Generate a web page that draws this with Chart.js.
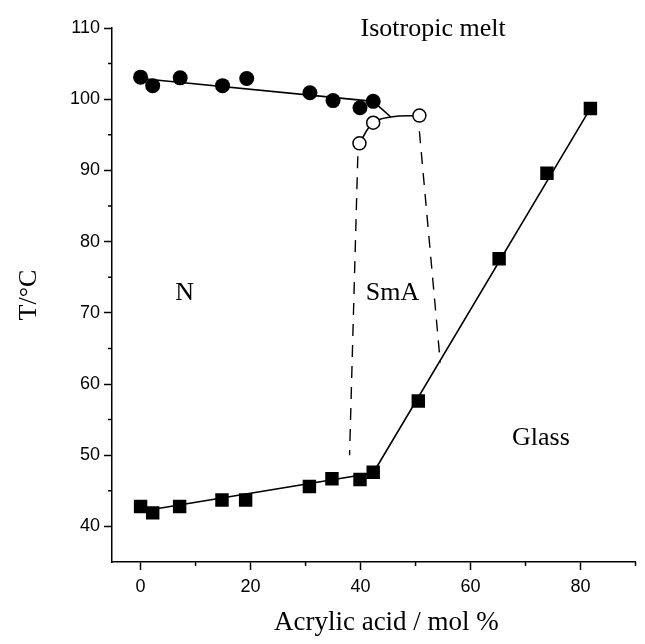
<!DOCTYPE html>
<html>
<head>
<meta charset="utf-8">
<script src="https://cdn.jsdelivr.net/npm/chart.js@4.4.1/dist/chart.umd.min.js"></script>
<style>
    html, body { margin: 0; padding: 0; background: #fff; }
    #wrap { width: 645px; height: 644px; }
</style>
</head>
<body>
<div id="wrap"><canvas id="phaseChart" width="645" height="644"></canvas></div>
<script>
// nematic -> isotropic (filled circles)
const niX = [0, 2.2, 7.2, 14.9, 19.3, 30.8, 35.0, 39.9, 42.3];
const niY = [103.1, 101.9, 103.0, 101.9, 102.9, 100.9, 99.8, 98.8, 99.7];
// smectic A -> isotropic (open circles)
const siX = [39.8, 42.3, 50.7];
const siY = [93.8, 96.7, 97.7];
// glass transition (squares)
const tgX = [0, 2.2, 7.1, 14.8, 19.1, 30.7, 34.8, 39.9, 42.3, 50.5, 65.2, 73.9, 81.8];
const tgY = [42.8, 41.9, 42.8, 43.7, 43.7, 45.6, 46.7, 46.6, 47.6, 57.6, 77.6, 89.6, 98.7];

// guide lines drawn by hand in the figure
const niLineX = [0, 42.3, 45.5];
const niLineY = [102.9, 99.7, 97.5];
const siLineX = [39.8, 42.3, 45.5, 50.7];
const siLineY = [93.8, 96.7, 97.5, 97.7];
const tgLineX = [1.5, 42.3, 81.8];
const tgLineY = [42.3, 47.5, 98.7];
const leftDashX = [39.5, 38.0];
const leftDashY = [92.0, 50.0];
const rightDashX = [50.7, 54.5];
const rightDashY = [95.5, 63.0];

const xTicks = [0, 20, 40, 60, 80];
const yTicks = [40, 50, 60, 70, 80, 90, 100, 110];
const xMinor = [10, 30, 50, 70, 90];
const yMinor = [45, 55, 65, 75, 85, 95, 105];

const regionLabels = ['Isotropic melt', 'N', 'SmA', 'Glass'];
const regionX = [53.2, 8.0, 45.8, 72.8];
const regionY = [109.8, 72.7, 72.7, 52.4];
const xTitle = 'Acrylic acid / mol %';
const xTitleAt = 44.7;

function pts(xs, ys) {
    return xs.map((x, i) => ({ x: x, y: ys[i] }));
}

const serif = "'Liberation Serif', 'Times New Roman', serif";
const sans = "'Liberation Sans', Arial, sans-serif";

// minor ticks, region names and the x title (which sits off-centre)
const extrasPlugin = {
    id: 'extras',
    afterDraw(chart) {
        const ctx = chart.ctx;
        const xs = chart.scales.x;
        const ys = chart.scales.y;
        ctx.save();
        ctx.strokeStyle = '#000';
        ctx.lineWidth = 1.5;
        ctx.beginPath();
        xMinor.forEach(v => {
            const px = xs.getPixelForValue(v);
            ctx.moveTo(px, ys.bottom);
            ctx.lineTo(px, ys.bottom + 4);
        });
        yMinor.forEach(v => {
            const py = ys.getPixelForValue(v);
            ctx.moveTo(xs.left, py);
            ctx.lineTo(xs.left - 4, py);
        });
        ctx.stroke();

        ctx.fillStyle = '#000';
        ctx.font = '26px ' + serif;
        ctx.textAlign = 'center';
        ctx.textBaseline = 'middle';
        regionLabels.forEach((t, i) => {
            ctx.fillText(t, xs.getPixelForValue(regionX[i]), ys.getPixelForValue(regionY[i]));
        });

        ctx.font = '27px ' + serif;
        ctx.fillText(xTitle, xs.getPixelForValue(xTitleAt), xs.bottom - 21);
        ctx.restore();
    }
};

const ctx = document.getElementById('phaseChart').getContext('2d');
new Chart(ctx, {
    type: 'scatter',
    data: {
        datasets: [
            {
                label: 'N-I',
                data: pts(niX, niY),
                pointStyle: 'circle',
                pointRadius: 7.5,
                backgroundColor: '#000',
                borderColor: '#000',
                borderWidth: 0,
                showLine: false,
                order: 0
            },
            {
                label: 'SmA-I',
                data: pts(siX, siY),
                pointStyle: 'circle',
                pointRadius: 6.5,
                backgroundColor: '#fff',
                borderColor: '#000',
                borderWidth: 1.5,
                showLine: false,
                order: 0
            },
            {
                label: 'Tg',
                data: pts(tgX, tgY),
                pointStyle: 'rect',
                pointRadius: 9.5,
                backgroundColor: '#000',
                borderColor: '#000',
                borderWidth: 0,
                showLine: false,
                order: 0
            },
            {
                data: pts(niLineX, niLineY),
                showLine: true, pointRadius: 0, borderColor: '#000', borderWidth: 1.6, order: 1
            },
            {
                data: pts(siLineX, siLineY),
                showLine: true, pointRadius: 0, borderColor: '#000', borderWidth: 1.6, tension: 0.4, order: 1
            },
            {
                data: pts(tgLineX, tgLineY),
                showLine: true, pointRadius: 0, borderColor: '#000', borderWidth: 1.6, order: 1
            },
            {
                data: pts(leftDashX, leftDashY),
                showLine: true, pointRadius: 0, borderColor: '#000', borderWidth: 1.4, borderDash: [12, 9], order: 1
            },
            {
                data: pts(rightDashX, rightDashY),
                showLine: true, pointRadius: 0, borderColor: '#000', borderWidth: 1.4, borderDash: [12, 9], order: 1
            }
        ]
    },
    options: {
        responsive: false,
        animation: false,
        layout: { padding: { top: 28, right: 1, bottom: 0, left: 0 } },
        plugins: {
            legend: { display: false },
            tooltip: { enabled: false }
        },
        scales: {
            x: {
                type: 'linear',
                min: -5.2,
                max: 90,
                afterBuildTicks: s => { s.ticks = xTicks.map(v => ({ value: v })); },
                afterFit: s => { s.height = 82; },
                border: { color: '#000', width: 1.5 },
                grid: { drawOnChartArea: false, color: '#000', tickLength: 8, tickWidth: 1.5 },
                ticks: { color: '#000', padding: 6, maxRotation: 0, font: { family: sans, size: 18 } }
            },
            y: {
                min: 35,
                max: 110,
                afterBuildTicks: s => { s.ticks = yTicks.map(v => ({ value: v })); },
                afterFit: s => { s.width = 112; },
                border: { color: '#000', width: 1.5 },
                grid: { drawOnChartArea: false, color: '#000', tickLength: 8, tickWidth: 1.5 },
                ticks: { color: '#000', padding: 4, font: { family: sans, size: 18 } },
                title: {
                    display: true,
                    text: 'T/°C',
                    color: '#000',
                    font: { family: serif, size: 26 },
                    padding: { top: 14, bottom: 0 }
                }
            }
        }
    },
    plugins: [extrasPlugin]
});
</script>
</body>
</html>
